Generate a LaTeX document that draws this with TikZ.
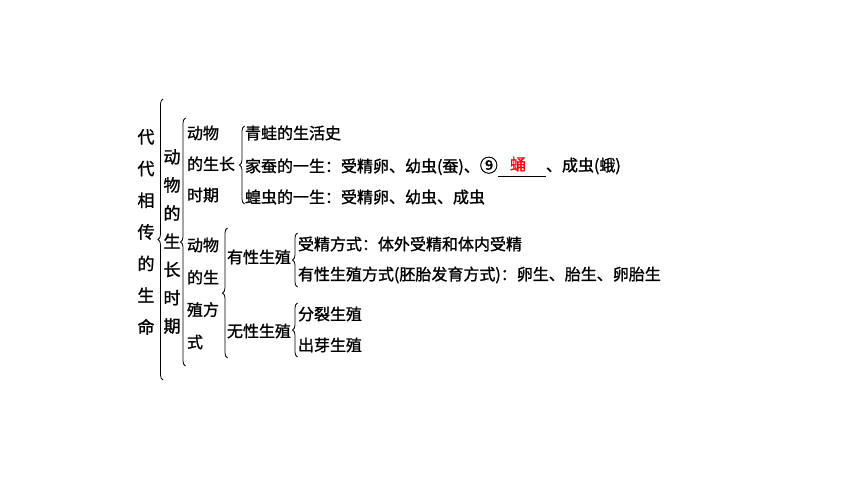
\documentclass[tikz,border=0pt]{standalone}
\usepackage{fontspec}
\setmainfont{Noto Sans CJK SC}[FakeBold=1.2]
\newfontfamily\circfont{DejaVu Sans}
\usetikzlibrary{decorations.pathreplacing}
\begin{document}
\begin{tikzpicture}[x=1pt,y=-1pt,
  txt/.style={inner sep=0pt, outer sep=0pt, font=\fontsize{16}{20}\selectfont, anchor=west},
  colA/.style={inner sep=0pt, outer sep=0pt, align=center, font=\fontsize{17}{31.7}\selectfont},
  colB/.style={inner sep=0pt, outer sep=0pt, align=center, font=\fontsize{17}{28.2}\selectfont},
  colC/.style={inner sep=0pt, outer sep=0pt, align=left, anchor=west, font=\fontsize{16}{31}\selectfont},
  colD/.style={inner sep=0pt, outer sep=0pt, align=left, anchor=west, font=\fontsize{16}{32.3}\selectfont},
  bracestyle/.style={decorate, decoration={brace, amplitude=5pt}, line width=0.8pt},
  answer/.style={inner sep=0pt, outer sep=0pt, font=\fontsize{16}{20}\selectfont, text=red}]
\useasboundingbox (0,0) rectangle (860,484);
\fill[white] (0,0) rectangle (860,484);

% column 1
\node[colA] (c1) at (146,232) {代\\代\\相\\传\\的\\生\\命};
\coordinate (b1b) at (163,380);
\coordinate (b1t) at (163,99);
\draw[bracestyle] (b1b) -- (b1t);

% column 2
\node[colB] (c2) at (172,241.5) {动\\物\\的\\生\\长\\时\\期};
\coordinate (b2b) at (185.5,366);
\coordinate (b2t) at (185.5,118);
\draw[bracestyle] (b2b) -- (b2t);

% group a
\node[colC] (c3a) at (187,164) {动物\\的生长\\时期};
\coordinate (b3ab) at (244.5,204);
\coordinate (b3at) at (244.5,126);
\draw[bracestyle] (b3ab) -- (b3at);

\node[txt] (i1) at (245,133) {青蛙的生活史};
\node[txt] (i2) at (245,166) {家蚕的一生：受精卵、幼虫(蚕)、{\fontsize{18}{20}\selectfont⑨}};
\node[answer] (ans) at (518,164) {蛹};
\coordinate (ulL) at (498,176);
\coordinate (ulR) at (546,176);
\draw[line width=0.9pt] (ulL) -- (ulR);
\node[txt] (i2b) at (546,166) {、成虫(蛾)};
\node[txt] (i3) at (245,197) {蝗虫的一生：受精卵、幼虫、成虫};

% group b
\node[colD] (c3b) at (187,293.5) {动物\\的生\\殖方\\式};
\coordinate (b3bb) at (227.5,358);
\coordinate (b3bt) at (227.5,228);
\draw[bracestyle] (b3bb) -- (b3bt);

\node[txt] (s1) at (227,257) {有性生殖};
\node[txt] (s2) at (227,331) {无性生殖};

\coordinate (b4ab) at (297.5,287);
\coordinate (b4at) at (297.5,233);
\draw[bracestyle] (b4ab) -- (b4at);
\coordinate (b4bb) at (297.5,357);
\coordinate (b4bt) at (297.5,303);
\draw[bracestyle] (b4bb) -- (b4bt);

\node[txt] (t1) at (298,244) {受精方式：体外受精和体内受精};
\node[txt] (t2) at (298,275) {有性生殖方式(胚胎发育方式)：卵生、胎生、卵胎生};
\node[txt] (t3) at (298,314) {分裂生殖};
\node[txt] (t4) at (298,345) {出芽生殖};
\end{tikzpicture}
\end{document}
